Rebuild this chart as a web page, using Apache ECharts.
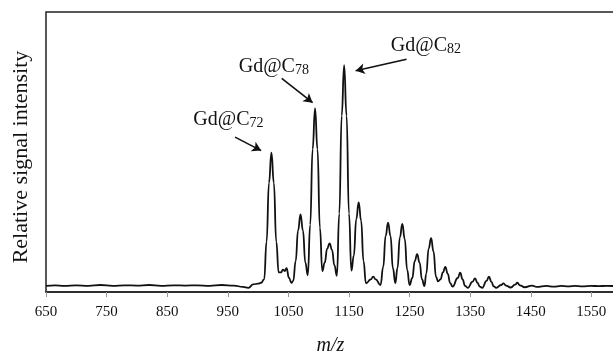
<!DOCTYPE html>
<html>
<head>
<meta charset="utf-8">
<script src="https://cdn.jsdelivr.net/npm/echarts@6/dist/echarts.min.js"></script>
<style>
  html, body { margin: 0; padding: 0; background: #fff; }
  #main { width: 613px; height: 353px; }
</style>
</head>
<body>
<div id="main"></div>
<script>
// m/z values and relative intensity
var mz = [
  650, 665, 680, 700, 720, 740, 760, 780, 800, 820, 840, 860, 880, 900, 920, 940, 960, 975, 984, 992,
  1000, 1005, 1010, 1014, 1018, 1022, 1026, 1030, 1034, 1038, 1041, 1044, 1047, 1051, 1055,
  1058, 1062, 1066, 1070, 1074, 1078, 1082,
  1086, 1090, 1094, 1098, 1102, 1106,
  1110, 1114, 1118, 1122, 1126, 1130,
  1134, 1138, 1142, 1146, 1150, 1154,
  1158, 1162, 1166, 1170, 1174, 1178,
  1186, 1190, 1194, 1202,
  1206.5, 1210.5, 1214.5, 1218.5, 1222.5, 1226.5,
  1230, 1234, 1238, 1242, 1246, 1250,
  1254.5, 1258.5, 1262.5, 1266.5, 1270.5, 1274.5,
  1277.5, 1281.5, 1285.5, 1289.5, 1293.5, 1297, 1301,
  1305, 1309, 1313, 1317, 1321,
  1329.5, 1333.5, 1337.5, 1341.5, 1346,
  1354, 1358, 1362, 1366, 1370,
  1377, 1381, 1385, 1389, 1393,
  1401, 1405, 1409, 1417,
  1424, 1428, 1432, 1440,
  1452, 1460, 1476, 1488, 1500, 1512, 1523, 1535, 1550, 1562, 1575, 1589
];
var intensity = [
  2.2, 2.4, 2.2, 2.4, 2.2, 2.5, 2.2, 2.4, 2.3, 2.5, 2.2, 2.4, 2.3, 2.4, 2.2, 2.5, 2.3, 1.8, 1.5, 2.7,
  3.0, 3.3, 4.5, 18, 39, 49.8, 39, 18, 7, 7.0, 8.0, 7.5, 8.5, 5, 3.3,
  4, 11, 22, 27.7, 22, 10.5, 6,
  24, 51, 65.6, 51, 23, 7.5,
  10.5, 15.5, 17.4, 15, 9.5, 5.8,
  28, 63, 81, 63, 28, 7.6,
  13, 26, 32, 25.5, 11, 3.1,
  4.5, 5.5, 4.5, 2.5,
  9, 20, 24.8, 20, 8.5, 3.2,
  8.5, 19.5, 24.3, 19, 8, 2.5,
  5, 11, 13.5, 10.5, 4.5, 2.1,
  6.5, 15.5, 19.2, 14.5, 5.5, 3.8, 4.5,
  7, 9, 6.5, 3.2, 1.9,
  5, 6.9, 4.5, 2.2, 1.5,
  3.7, 4.9, 3.3, 1.9, 1.5,
  4, 5.5, 3.6, 2, 1.5,
  2.5, 3.1, 2.3, 1.6,
  2.6, 3.3, 2.4, 1.7,
  2.3, 1.8, 2.2, 1.9, 2.2, 2.0, 2.2, 2.0, 2.2, 2.1, 2.2, 2.1
];
var peakNames = ['72', '78', '82'];

var spectrum = [];
for (var i = 0; i < mz.length; i++) {
  spectrum.push([mz[i], intensity[i]]);
}

var serif = '"Liberation Serif", "DejaVu Serif", serif';

var myChart = echarts.init(document.getElementById('main'), null, { renderer: 'canvas' });
var option = {
  animation: false,
  grid: {
    left: 46,
    top: 12,
    right: -2,
    bottom: 61,
    outerBoundsMode: 'none',
    containLabel: false,
    show: true,
    borderColor: '#222',
    borderWidth: 1.5
  },
  xAxis: {
    type: 'value',
    min: 650,
    max: 1589,
    interval: 100,
    name: 'm/z',
    nameLocation: 'middle',
    nameGap: 44,
    nameTextStyle: { fontFamily: serif, fontStyle: 'italic', fontSize: 20, color: '#111' },
    axisLine: { lineStyle: { color: '#222', width: 1.5 } },
    axisTick: { length: 5, lineStyle: { color: '#999', width: 1 } },
    axisLabel: {
      fontFamily: serif, fontSize: 15, color: '#111', margin: 13, showMaxLabel: false,
      formatter: function (v) { return String(v); }
    },
    splitLine: { show: false }
  },
  yAxis: {
    type: 'value',
    min: 0,
    max: 100,
    name: 'Relative signal intensity',
    nameLocation: 'middle',
    nameGap: 14,
    nameTextStyle: { fontFamily: serif, fontSize: 22, color: '#111', padding: [0, 10, 0, 0] },
    axisLine: { show: false },
    axisTick: { show: false },
    axisLabel: { show: false },
    splitLine: { show: false }
  },
  series: [{
    type: 'line',
    data: spectrum,
    showSymbol: false,
    smooth: 0.5,
    smoothMonotone: 'x',
    lineStyle: { color: '#111', width: 1.8 },
    markLine: {
      silent: true,
      symbol: ['none', 'arrow'],
      symbolSize: [8, 9],
      label: { show: false },
      lineStyle: { color: '#111', width: 1.6, type: 'solid' },
      data: [
        [{ coord: [962, 55.3] }, { coord: [1005, 50.5] }],
        [{ coord: [1039, 76.3] }, { coord: [1090, 67.6] }],
        [{ coord: [1245, 83.1] }, { coord: [1161, 79] }]
      ]
    },
    markPoint: {
      silent: true,
      symbolSize: 0,
      label: {
        show: true,
        position: 'inside',
        color: '#111',
        formatter: function (p) { return '{a|Gd@C}{b|' + p.name + '}'; },
        rich: {
          a: { fontFamily: serif, fontSize: 20, lineHeight: 22, color: '#111' },
          b: { fontFamily: serif, fontSize: 14, lineHeight: 22, verticalAlign: 'bottom', padding: [10, 0, 0, 0], color: '#111' }
        }
      },
      data: [
        { name: peakNames[0], coord: [951, 61.5] },
        { name: peakNames[1], coord: [1026, 80.5] },
        { name: peakNames[2], coord: [1277, 88] }
      ]
    }
  }]
};
myChart.setOption(option);
</script>
</body>
</html>
